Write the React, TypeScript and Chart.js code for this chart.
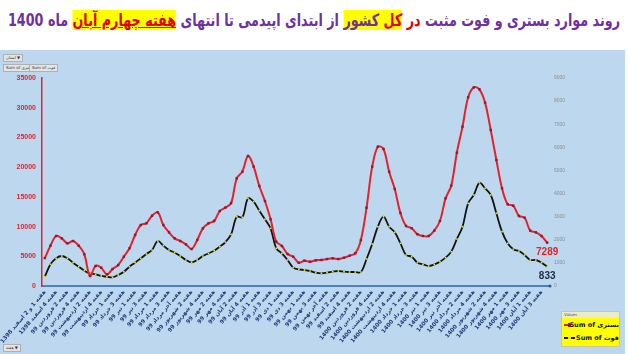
import React, { useEffect, useLayoutEffect, useRef } from 'react';
import { Chart, registerables } from 'chart.js';

Chart.register(...registerables);

const weeks: string[] = [
  'هفته 1 و 2 اسفند 1398', 'هفته 3 اسفند 1398', 'هفته 4 اسفند 1398',
  'هفته 1 فروردین 99', 'هفته 2 فروردین 99', 'هفته 3 فروردین 99', 'هفته 4 فروردین 99',
  'هفته 1 اردیبهشت 99', 'هفته 2 اردیبهشت 99', 'هفته 3 اردیبهشت 99', 'هفته 4 اردیبهشت 99', 'هفته آخر اردیبهشت 99',
  'هفته 1 خرداد 99', 'هفته 2 خرداد 99', 'هفته 3 خرداد 99', 'هفته 4 خرداد 99',
  'هفته 1 تیر 99', 'هفته 2 تیر 99', 'هفته 3 تیر 99', 'هفته 4 تیر 99',
  'هفته 1 مرداد 99', 'هفته 2 مرداد 99', 'هفته 3 مرداد 99', 'هفته 4 مرداد 99', 'هفته آخر مرداد 99',
  'هفته 1 شهریور 99', 'هفته 2 شهریور 99', 'هفته 3 شهریور 99', 'هفته 4 شهریور 99',
  'هفته 1 مهر 99', 'هفته 2 مهر 99', 'هفته 3 مهر 99', 'هفته 4 مهر 99',
  'هفته 1 آبان 99', 'هفته 2 آبان 99', 'هفته 3 آبان 99', 'هفته 4 آبان 99', 'هفته آخر آبان 99',
  'هفته 1 آذر 99', 'هفته 2 آذر 99', 'هفته 3 آذر 99', 'هفته 4 آذر 99',
  'هفته 1 دی 99', 'هفته 2 دی 99', 'هفته 3 دی 99', 'هفته 4 دی 99',
  'هفته 1 بهمن 99', 'هفته 2 بهمن 99', 'هفته 3 بهمن 99', 'هفته 4 بهمن 99', 'هفته آخر بهمن 99',
  'هفته 1 اسفند 99', 'هفته 2 اسفند 99', 'هفته 3 اسفند 99', 'هفته 4 اسفند 99',
  'هفته 1 فروردین 1400', 'هفته 2 فروردین 1400', 'هفته 3 فروردین 1400', 'هفته 4 فروردین 1400',
  'هفته 1 اردیبهشت 1400', 'هفته 2 اردیبهشت 1400', 'هفته 3 اردیبهشت 1400', 'هفته 4 اردیبهشت 1400', 'هفته آخر اردیبهشت 1400',
  'هفته 1 خرداد 1400', 'هفته 2 خرداد 1400', 'هفته 3 خرداد 1400', 'هفته 4 خرداد 1400',
  'هفته 1 تیر 1400', 'هفته 2 تیر 1400', 'هفته 3 تیر 1400', 'هفته 4 تیر 1400', 'هفته آخر تیر 1400',
  'هفته 1 مرداد 1400', 'هفته 2 مرداد 1400', 'هفته 3 مرداد 1400', 'هفته 4 مرداد 1400',
  'هفته 1 شهریور 1400', 'هفته 2 شهریور 1400', 'هفته 3 شهریور 1400', 'هفته 4 شهریور 1400', 'هفته آخر شهریور 1400',
  'هفته 1 مهر 1400', 'هفته 2 مهر 1400', 'هفته 3 مهر 1400', 'هفته 4 مهر 1400',
  'هفته 1 آبان 1400', 'هفته 2 آبان 1400', 'هفته 3 آبان 1400', 'هفته 4 آبان 1400',
];

const hospitalized: number[] = [
  4700, 6780, 8410, 8020, 7180, 7570, 6780, 5330, 1680, 3370,
  3080, 1960, 2860, 3530, 4930, 6340, 8580, 10260, 10550, 11830,
  12400, 10260, 9030, 8020, 7570, 7010, 6220, 7740, 9700, 10550,
  10940, 12620, 13200, 13950, 18120, 19240, 21880, 20080, 16830, 14300,
  11220, 7460, 6730, 5380, 4930, 3920, 4260, 4090, 4320, 4380,
  4540, 4660, 4540, 4760, 5100, 5500, 7740, 13180, 20080, 23440,
  23050, 19240, 16320, 12280, 10100, 9710, 8720, 8410, 8410, 9310,
  10940, 14750, 16880, 22430, 26810, 31750, 33430, 33100, 30850, 26250,
  21200, 16440, 13750, 13510, 11780, 11490, 9310, 9030, 8410, 7289,
];

const deaths: number[] = [
  403, 938, 1198, 1298, 1198, 1010, 836, 663, 548, 505,
  433, 403, 375, 476, 620, 836, 1010, 1198, 1385, 1558,
  1947, 1745, 1558, 1442, 1298, 1125, 1024, 1125, 1298, 1413,
  1529, 1702, 1900, 2230, 3000, 2972, 3793, 3649, 3260, 2885,
  2495, 1630, 1413, 1125, 793, 721, 692, 649, 577, 548,
  577, 620, 649, 620, 606, 606, 606, 1168, 1817, 2567,
  3000, 2567, 2322, 1846, 1341, 1269, 1010, 938, 865, 938,
  1053, 1226, 1486, 2034, 2567, 3577, 3938, 4471, 4226, 3938,
  3144, 2351, 1846, 1587, 1514, 1341, 1125, 1125, 1010, 833,
];

const leftMax = 35000;
const leftStep = 5000;
const rightMax = 9000;
const rightStep = 1000;

const seriesNames: string[] = ['Sum of بستری', 'Sum of فوت'];

const RED = '#e3232c';
const RED_MARK = '#8a1a3a';
const DEATH_LINE = '#121212';
const DEATH_MARK = '#e6e61a';

const endLabels = {
  id: 'endLabels',
  afterDatasetsDraw(chart: any) {
    const ctx = chart.ctx;
    ctx.save();
    ctx.font = 'bold 10px "Liberation Sans Narrow", "Liberation Sans", Arial, sans-serif';
    ctx.textAlign = 'center';
    ctx.textBaseline = 'middle';
    const m0 = chart.getDatasetMeta(0);
    const p0 = m0.data[m0.data.length - 1];
    ctx.fillStyle = RED;
    ctx.fillText(String(hospitalized[hospitalized.length - 1]), p0.x, p0.y + 10);
    const m1 = chart.getDatasetMeta(1);
    const p1 = m1.data[m1.data.length - 1];
    ctx.fillStyle = '#1c2a44';
    ctx.fillText(String(deaths[deaths.length - 1]), p1.x, p1.y + 10);
    const xs = chart.scales.x;
    ctx.fillStyle = '#2f5597';
    ctx.beginPath();
    ctx.arc(chart.chartArea.right, xs.top, 1.5, 0, Math.PI * 2);
    ctx.fill();
    ctx.restore();
  },
};

function ChartCanvas() {
  const ref = useRef<HTMLCanvasElement | null>(null);
  useEffect(() => {
    if (!ref.current) return;
    const chart = new Chart(ref.current, {
      type: 'line',
      data: {
        labels: weeks,
        datasets: [
          {
            label: seriesNames[0],
            data: hospitalized,
            yAxisID: 'y',
            borderColor: RED,
            borderWidth: 2,
            pointStyle: 'rect',
            pointRadius: 1.7,
            pointBackgroundColor: RED_MARK,
            pointBorderColor: RED_MARK,
            pointBorderWidth: 0,
            tension: 0.35,
          },
          {
            label: seriesNames[1],
            data: deaths,
            yAxisID: 'y1',
            borderColor: DEATH_LINE,
            borderWidth: 1.8,
            pointStyle: 'rect',
            pointRadius: 1.2,
            pointBackgroundColor: DEATH_MARK,
            pointBorderColor: DEATH_MARK,
            pointBorderWidth: 0,
            tension: 0.35,
          },
        ],
      },
      options: {
        responsive: false,
        animation: false,
        layout: { padding: { top: 28, left: 0, right: 0, bottom: 0 } },
        plugins: {
          legend: { display: false },
          tooltip: { enabled: false },
        },
        scales: {
          x: {
            type: 'category',
            offset: true,
            grid: { display: false, drawTicks: false },
            border: { display: true, color: '#4f7fbf', width: 2 },
            ticks: {
              autoSkip: false,
              minRotation: 50,
              maxRotation: 50,
              padding: 3,
              color: '#1f3a78',
              font: { size: 5.6, weight: 'bold', family: '"DejaVu Sans", sans-serif' },
              callback: (_v: any, i: number) => (i % 2 === 0 ? weeks[i] : ''),
            },
            afterFit: (s: any) => {
              s.height = 68;
              s.paddingLeft = 0;
              s.paddingRight = 0;
            },
          },
          y: {
            position: 'left',
            min: 0,
            max: leftMax,
            grid: { display: false, drawTicks: false },
            border: { display: true, color: RED, width: 1.5 },
            ticks: {
              stepSize: leftStep,
              padding: 6,
              color: RED,
              font: { size: 7, weight: 'bold', family: '"Liberation Sans", Arial, sans-serif' },
              callback: (v: any) => String(v),
            },
            afterFit: (s: any) => {
              s.width = 42;
            },
          },
          y1: {
            position: 'right',
            min: 0,
            max: rightMax,
            grid: { display: false, drawTicks: false },
            border: { display: false },
            ticks: {
              stepSize: rightStep,
              padding: 4,
              color: '#8c8c8c',
              font: { size: 5, family: '"Liberation Sans", Arial, sans-serif' },
              callback: (v: any) => String(v),
            },
            afterFit: (s: any) => {
              s.width = 75;
            },
          },
        },
      },
      plugins: [endLabels],
    } as any);
    return () => chart.destroy();
  }, []);
  return (
    <canvas
      ref={ref}
      width={625}
      height={304}
      style={{ position: 'absolute', left: 0, top: 50, width: 625, height: 304 }}
    />
  );
}

const tinyBtn: React.CSSProperties = {
  position: 'absolute',
  fontSize: 4,
  lineHeight: '6px',
  height: 6,
  padding: '0 2px',
  background: '#e4e4e4',
  border: '1px solid #b0b0b0',
  color: '#333',
  fontFamily: '"DejaVu Sans", sans-serif',
  whiteSpace: 'nowrap',
};

function Title() {
  const ref = useRef<HTMLSpanElement | null>(null);
  useLayoutEffect(() => {
    const el = ref.current;
    if (!el) return;
    el.style.transform = 'translateX(-50%)';
    const w = el.getBoundingClientRect().width;
    const target = 612;
    if (w > 0) el.style.transform = `translateX(-50%) scaleX(${target / w})`;
  }, []);
  const yel: React.CSSProperties = { background: '#ffff00' };
  return (
    <span
      ref={ref}
      dir="rtl"
      style={{
        position: 'absolute',
        left: 314,
        top: 9,
        display: 'inline-block',
        transformOrigin: 'center',
        transform: 'translateX(-50%)',
        direction: 'rtl',
        fontFamily: '"DejaVu Sans", sans-serif',
        fontWeight: 'bold',
        fontSize: 17,
        lineHeight: '22px',
        color: '#7030a0',
        whiteSpace: 'nowrap',
      }}
    >
      روند موارد بستری و فوت مثبت <span style={{ color: '#e00000' }}>در</span>{' '}
      <span style={yel}><span style={{ color: '#e00000' }}>کل</span> کشور</span> از ابتدای اپیدمی تا انتهای{' '}
      <span style={{ ...yel, color: '#e00000', textDecoration: 'underline' }}>هفته چهارم آبان</span> ماه 1400
    </span>
  );
}

export default function App() {
  return (
    <div style={{ position: 'fixed', left: 0, top: 0, width: 628, height: 354, background: '#ffffff', overflow: 'hidden' }}>
      <Title />
      <div style={{ position: 'absolute', left: 0, top: 50, width: 625, height: 304, background: '#bdd7ee' }} />
      <ChartCanvas />
      <div style={{ ...tinyBtn, left: 3, top: 54 }}>استان ▼</div>
      <div style={{ ...tinyBtn, left: 3, top: 64 }}>Sum of بستری</div>
      <div style={{ ...tinyBtn, left: 29, top: 64 }}>Sum of فوت</div>
      <div style={{ ...tinyBtn, left: 3, top: 344 }}>هفته ▼</div>
      <div
        style={{
          position: 'absolute',
          left: 561,
          top: 311,
          width: 57,
          height: 34,
          background: '#ffff00',
          border: '1px solid #c8c8a0',
          fontFamily: '"DejaVu Sans", sans-serif',
        }}
      >
        <div style={{ height: 6, background: '#ecebc8', fontSize: 4, lineHeight: '6px', color: '#555', paddingLeft: 2 }}>Values</div>
        <div style={{ display: 'flex', alignItems: 'center', height: 13, fontSize: 6.5, fontWeight: 'bold', color: '#111', paddingLeft: 2, whiteSpace: 'nowrap' }}>
          <span style={{ position: 'relative', display: 'inline-block', width: 11, height: 2, background: RED, marginRight: 1 }}>
            <span style={{ position: 'absolute', left: 4, top: -1, width: 3, height: 4, background: RED_MARK }} />
          </span>
          {seriesNames[0]}
        </div>
        <div style={{ display: 'flex', alignItems: 'center', height: 13, fontSize: 6.5, fontWeight: 'bold', color: '#111', paddingLeft: 2, whiteSpace: 'nowrap' }}>
          <span style={{ position: 'relative', display: 'inline-block', width: 11, height: 2, background: DEATH_LINE, marginRight: 1 }}>
            <span style={{ position: 'absolute', left: 4, top: 0, width: 3, height: 2, background: DEATH_MARK }} />
          </span>
          {seriesNames[1]}
        </div>
      </div>
    </div>
  );
}
